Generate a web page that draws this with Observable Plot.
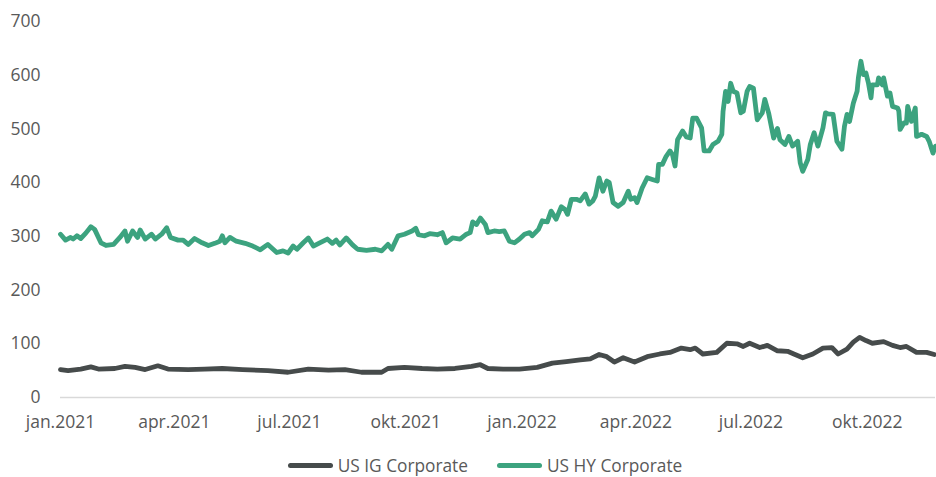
<!DOCTYPE html>
<html>
<head>
<meta charset="utf-8">
<script src="https://cdn.jsdelivr.net/npm/d3@7"></script>
<script src="https://cdn.jsdelivr.net/npm/@observablehq/plot@0.6"></script>
<style>
  html, body { margin: 0; padding: 0; background: #fff; }
  #chart { width: 936px; height: 477px; position: relative; overflow: hidden; }
  .legend { display: flex; justify-content: center; align-items: center; gap: 29px;
            font-family: "Open Sans", sans-serif; font-size: 17.3px; color: #595959;
            margin-top: 14px; padding-left: 34px; }
  .legend .item { display: flex; align-items: center; }
  .legend .sw { width: 45px; height: 5px; border-radius: 3px; margin-right: 5px; }
</style>
</head>
<body>
<div id="chart"></div>
<script>
const seriesNames = ["US IG Corporate", "US HY Corporate"];
const seriesColors = ["#464b4b", "#3ca37f"];
const monthNames = ["jan", "feb", "mar", "apr", "mai", "jun", "jul", "aug", "sep", "okt", "nov", "des"];
const yTicks = [0, 100, 200, 300, 400, 500, 600, 700];

const igDates = ["2021-01-01","2021-01-07","2021-01-17","2021-01-25","2021-01-31","2021-02-13","2021-02-21","2021-03-01","2021-03-09","2021-03-19","2021-03-27","2021-04-12","2021-04-25","2021-05-09","2021-05-25","2021-06-14","2021-06-30","2021-07-16","2021-08-01","2021-08-14","2021-08-27","2021-09-12","2021-09-17","2021-09-30","2021-10-14","2021-10-26","2021-11-09","2021-11-22","2021-11-29","2021-12-05","2021-12-17","2021-12-30","2022-01-13","2022-01-25","2022-02-05","2022-02-16","2022-02-24","2022-03-03","2022-03-09","2022-03-15","2022-03-22","2022-03-31","2022-04-10","2022-04-20","2022-04-28","2022-05-07","2022-05-14","2022-05-18","2022-05-24","2022-06-04","2022-06-12","2022-06-20","2022-06-25","2022-06-30","2022-07-08","2022-07-14","2022-07-22","2022-07-30","2022-08-04","2022-08-11","2022-08-19","2022-08-27","2022-09-03","2022-09-08","2022-09-15","2022-09-20","2022-09-25","2022-09-30","2022-10-05","2022-10-14","2022-10-21","2022-10-27","2022-11-01","2022-11-09","2022-11-17","2022-11-23"];
const igValues = [52,50,53,57,53,54,58,56,52,59,53,52,53,54,52,50,47,53,51,52,47,47,54,56,54,53,54,58,61,54,53,53,56,64,67,70,72,80,76,66,74,66,76,81,84,92,89,92,81,84,101,100,95,101,93,97,87,86,81,74,81,92,93,81,90,103,112,106,101,104,97,93,95,84,84,80];

const hyDates = ["2021-01-01","2021-01-05","2021-01-09","2021-01-11","2021-01-14","2021-01-17","2021-01-21","2021-01-25","2021-01-28","2021-02-02","2021-02-06","2021-02-12","2021-02-17","2021-02-21","2021-02-23","2021-02-27","2021-03-03","2021-03-05","2021-03-09","2021-03-14","2021-03-17","2021-03-22","2021-03-26","2021-03-29","2021-04-04","2021-04-08","2021-04-12","2021-04-17","2021-04-23","2021-04-28","2021-05-03","2021-05-07","2021-05-09","2021-05-11","2021-05-15","2021-05-20","2021-05-27","2021-06-02","2021-06-08","2021-06-14","2021-06-21","2021-06-26","2021-06-30","2021-07-04","2021-07-07","2021-07-12","2021-07-16","2021-07-20","2021-07-25","2021-07-31","2021-08-04","2021-08-07","2021-08-10","2021-08-15","2021-08-20","2021-08-24","2021-08-31","2021-09-07","2021-09-12","2021-09-17","2021-09-20","2021-09-25","2021-09-30","2021-10-06","2021-10-09","2021-10-11","2021-10-16","2021-10-20","2021-10-26","2021-10-30","2021-11-02","2021-11-07","2021-11-13","2021-11-18","2021-11-21","2021-11-23","2021-11-26","2021-11-29","2021-12-03","2021-12-05","2021-12-10","2021-12-14","2021-12-18","2021-12-22","2021-12-26","2021-12-30","2022-01-03","2022-01-07","2022-01-09","2022-01-14","2022-01-17","2022-01-21","2022-01-24","2022-01-28","2022-02-01","2022-02-04","2022-02-06","2022-02-09","2022-02-13","2022-02-16","2022-02-20","2022-02-23","2022-02-26","2022-02-28","2022-03-03","2022-03-06","2022-03-09","2022-03-11","2022-03-14","2022-03-18","2022-03-22","2022-03-26","2022-03-28","2022-03-31","2022-04-02","2022-04-06","2022-04-10","2022-04-14","2022-04-18","2022-04-19","2022-04-22","2022-04-25","2022-04-28","2022-04-30","2022-05-02","2022-05-04","2022-05-08","2022-05-11","2022-05-14","2022-05-16","2022-05-19","2022-05-23","2022-05-25","2022-05-29","2022-06-01","2022-06-05","2022-06-08","2022-06-09","2022-06-11","2022-06-13","2022-06-15","2022-06-17","2022-06-20","2022-06-23","2022-06-25","2022-06-28","2022-06-30","2022-07-03","2022-07-06","2022-07-10","2022-07-12","2022-07-15","2022-07-19","2022-07-22","2022-07-24","2022-07-28","2022-07-31","2022-08-03","2022-08-07","2022-08-09","2022-08-11","2022-08-15","2022-08-17","2022-08-20","2022-08-23","2022-08-27","2022-08-29","2022-08-31","2022-09-04","2022-09-07","2022-09-11","2022-09-13","2022-09-15","2022-09-17","2022-09-20","2022-09-23","2022-09-24","2022-09-26","2022-09-28","2022-09-30","2022-10-02","2022-10-04","2022-10-05","2022-10-09","2022-10-10","2022-10-13","2022-10-14","2022-10-17","2022-10-19","2022-10-21","2022-10-25","2022-10-26","2022-10-27","2022-10-30","2022-11-01","2022-11-02","2022-11-05","2022-11-08","2022-11-09","2022-11-13","2022-11-17","2022-11-19","2022-11-22","2022-11-24"];
const hyValues = [304,293,298,295,301,296,306,318,313,288,283,285,298,310,291,310,298,312,295,304,295,304,316,298,293,293,285,296,288,283,287,291,301,288,298,291,287,282,275,285,270,273,269,282,276,288,297,282,288,295,287,293,284,297,284,276,274,276,273,285,276,301,304,310,315,303,301,305,303,307,288,297,295,304,307,327,322,334,322,307,310,309,310,291,288,295,304,307,301,313,329,327,347,332,355,350,341,369,369,366,379,360,366,375,409,384,403,400,363,356,363,384,369,372,363,390,409,406,403,434,434,449,459,452,431,480,496,485,483,520,520,502,459,459,471,477,490,533,570,551,585,570,567,530,533,570,579,576,517,530,555,530,483,501,480,471,486,468,477,437,421,443,471,493,468,502,530,528,527,477,462,505,527,514,548,570,595,626,601,604,585,558,582,582,595,582,595,561,567,542,539,533,499,511,511,542,514,539,486,490,486,477,455,468];

const parse = d3.utcParse("%Y-%m-%d");
const rows = [];
igDates.forEach((d, i) => rows.push({date: parse(d), value: igValues[i], series: seriesNames[0]}));
hyDates.forEach((d, i) => rows.push({date: parse(d), value: hyValues[i], series: seriesNames[1]}));

const xStart = parse(igDates[0]);
const xEnd = parse(hyDates[hyDates.length - 1]);
const quarterTicks = d3.utcMonth.every(3).range(xStart, d3.utcDay.offset(xEnd, 1));

const plot = Plot.plot({
  width: 936,
  height: 440,
  marginLeft: 60,
  marginRight: 1,
  marginTop: 21,
  marginBottom: 43,
  style: {fontFamily: "'Open Sans', sans-serif", fontSize: "17.5px", color: "#595959", background: "#fff"},
  x: {type: "utc", domain: [xStart, xEnd], ticks: quarterTicks,
      tickFormat: d => monthNames[d.getUTCMonth()] + "." + d.getUTCFullYear(),
      tickSize: 0, tickPadding: 18, label: null},
  y: {domain: [0, 700], ticks: yTicks, tickSize: 0, tickPadding: 20, label: null},
  color: {domain: seriesNames, range: seriesColors},
  marks: [
    Plot.ruleY([0], {stroke: "#d9d9d9", strokeWidth: 1.5, x1: xStart, x2: xEnd}),
    Plot.lineY(rows, {x: "date", y: "value", z: "series", stroke: "series",
      strokeWidth: 4.8, strokeLinejoin: "round", strokeLinecap: "round"})
  ]
});
const chart = document.getElementById("chart");
chart.appendChild(plot);

const legend = document.createElement("div");
legend.className = "legend";
seriesNames.forEach((n, i) => {
  const item = document.createElement("div");
  item.className = "item";
  const sw = document.createElement("span");
  sw.className = "sw";
  sw.style.background = seriesColors[i];
  const t = document.createElement("span");
  t.textContent = n;
  item.appendChild(sw); item.appendChild(t);
  legend.appendChild(item);
});
chart.appendChild(legend);
</script>
</body>
</html>
